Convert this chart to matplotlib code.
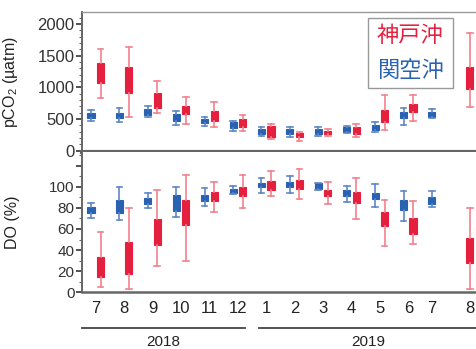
import matplotlib
matplotlib.use('Agg')
import matplotlib.pyplot as plt
from matplotlib.patches import Rectangle

plt.rcParams['font.family'] = ['Liberation Sans', 'DejaVu Sans']
plt.rcParams['mathtext.fontset'] = 'custom'
plt.rcParams['mathtext.rm'] = 'Liberation Sans'
plt.rcParams['mathtext.it'] = 'Liberation Sans'

# 月 (2018-7 .. 2019-8)
months = ['7', '8', '9', '10', '11', '12', '1', '2', '3', '4', '5', '6', '7', '8']
years = ['2018', '2019']
year_sizes = [6, 8]

# pCO2 (µatm) 神戸沖
kobe_pco2_lo = [827, 537, 600, 421, 379, 316, 180, 158, 232, 221, 327, 469, None, 685]
kobe_pco2_q1 = [1073, 916, 679, 574, 474, 379, 221, 221, 258, 264, 458, 616, None, 969]
kobe_pco2_q3 = [1380, 1326, 906, 706, 631, 500, 390, 284, 316, 369, 642, 732, None, 1326]
kobe_pco2_hi = [1600, 1632, 1105, 843, 764, 563, 421, 300, 338, 421, 879, 879, None, 1863]
# pCO2 (µatm) 関空沖
kix_pco2_lo = [475, 448, 537, 406, 390, 316, 232, 211, 232, 285, 290, 406, 511, None]
kix_pco2_q1 = [510, 511, 563, 469, 442, 353, 264, 264, 264, 300, 327, 511, 527, None]
kix_pco2_q3 = [590, 600, 653, 574, 496, 448, 342, 338, 338, 370, 406, 606, 616, None]
kix_pco2_hi = [640, 670, 700, 631, 527, 469, 369, 369, 369, 390, 448, 679, 658, None]

# DO (%) 神戸沖
kobe_do_lo = [5.3, 3.4, 25.2, 29.6, 76, 80.1, 91.2, 88.1, 83.6, 69.1, 44.1, 45.5, None, 2.8]
kobe_do_q1 = [14.2, 17.3, 44.8, 63.4, 86.7, 91.5, 96.9, 97.8, 91.5, 84.3, 63.1, 54.9, None, 28]
kobe_do_q3 = [33.1, 47.9, 69.1, 87.4, 95.3, 99.4, 105.4, 106.3, 96.9, 95.3, 76.3, 70.1, None, 51.7]
kobe_do_hi = [57.1, 79.5, 96.9, 111, 104.2, 111, 114.9, 116.8, 104.2, 108, 87.4, 86.5, None, 79.5]
# DO (%) 関空沖
kix_do_lo = [70.4, 68.5, 79.5, 71.6, 81.7, 93.1, 93.7, 93.7, 96.9, 85.8, 81.1, 67.5, 80.5, None]
kix_do_q1 = [74.8, 74.8, 83.6, 77.3, 86.7, 94.3, 99.4, 100, 97.5, 91.5, 88.4, 77.9, 83.6, None]
kix_do_q3 = [80.5, 87.4, 89, 92.1, 92.1, 98.1, 103.8, 104.7, 103.2, 96.9, 94.3, 87.4, 90.5, None]
kix_do_hi = [84.8, 100, 93.7, 100, 98.5, 101, 108, 110.4, 103.8, 100.7, 102.3, 96.2, 96.2, None]

RED = '#E5203F'
RED_W = '#F2818E'
BLUE = '#2A62B2'
BLUE_W = '#5F86C8'
SPINE = '#666666'
OFF = 0.167


def make_stats(lo, q1, q3, hi, shift):
    stats, pos = [], []
    for i in range(len(lo)):
        if lo[i] is None:
            continue
        stats.append(dict(whislo=lo[i], q1=q1[i], med=q1[i], q3=q3[i], whishi=hi[i], fliers=[]))
        pos.append(i + shift)
    return stats, pos


def draw(ax, lo, q1, q3, hi, shift, color, wcolor):
    stats, pos = make_stats(lo, q1, q3, hi, shift)
    ax.bxp(stats, positions=pos, widths=0.25, capwidths=0.2, patch_artist=True,
           showfliers=False, manage_ticks=False,
           boxprops=dict(facecolor=color, edgecolor=color, linewidth=0.8),
           whiskerprops=dict(color=wcolor, linewidth=1.2),
           capprops=dict(color=wcolor, linewidth=1.2),
           medianprops=dict(linewidth=0))
    return pos


fig = plt.figure(figsize=(4.77, 3.49), dpi=100)
ax1 = fig.add_axes([0.171, 0.5645, 0.829, 0.3997])
ax2 = fig.add_axes([0.171, 0.1625, 0.829, 0.402])

draw(ax1, kobe_pco2_lo, kobe_pco2_q1, kobe_pco2_q3, kobe_pco2_hi, OFF, RED, RED_W)
draw(ax1, kix_pco2_lo, kix_pco2_q1, kix_pco2_q3, kix_pco2_hi, -OFF, BLUE, BLUE_W)
red_pos = draw(ax2, kobe_do_lo, kobe_do_q1, kobe_do_q3, kobe_do_hi, OFF, RED, RED_W)
blue_pos = draw(ax2, kix_do_lo, kix_do_q1, kix_do_q3, kix_do_hi, -OFF, BLUE, BLUE_W)

xlim = (-0.50, 13.42)
for ax in (ax1, ax2):
    ax.set_xlim(*xlim)
    ax.spines['right'].set_visible(False)
    ax.spines['left'].set_color(SPINE)
    ax.spines['left'].set_linewidth(1.4)
    ax.tick_params(axis='y', colors='#333333', direction='out', length=4, width=1.2, pad=1)
    ax.tick_params(axis='y', which='minor', length=2, width=0.8, colors=SPINE)
    ax.tick_params(axis='x', length=0)

# top panel
ax1.set_ylim(-20, 2181)
ax1.set_yticks([0, 500, 1000, 1500, 2000])
ax1.set_yticks(range(0, 2200, 100), minor=True)
ax1.tick_params(axis='y', labelsize=12)
ax1.set_xticks([])
ax1.spines['top'].set_color('#999999')
ax1.spines['top'].set_linewidth(1.0)
ax1.spines['bottom'].set_color(SPINE)
ax1.spines['bottom'].set_linewidth(3)
ax1.set_ylabel('pCO$_2$ (µatm)', fontsize=11.5, color='#222222')
ax1.yaxis.set_label_coords(-0.155, 0.5)

# bottom panel
ax2.set_ylim(0, 132.9)
ax2.set_yticks([0, 20, 40, 60, 80, 100, 120])
ax2.set_yticklabels(['0', '20', '40', '60', '80', '100', ''])
ax2.set_yticks(range(0, 131, 10), minor=True)
ax2.tick_params(axis='y', labelsize=11)
ax2.spines['top'].set_visible(False)
ax2.spines['bottom'].set_color(SPINE)
ax2.spines['bottom'].set_linewidth(1.8)
ax2.set_ylabel('DO (%)', fontsize=11.5, color='#222222')
ax2.yaxis.set_label_coords(-0.155, 0.5)

# month labels sit at the mean of the boxes present that month
tick_pos = []
for i in range(len(months)):
    p = [x for x in red_pos + blue_pos if abs(x - i) < 0.5]
    tick_pos.append(sum(p) / len(p))
ax2.set_xticks(tick_pos)
ax2.set_xticklabels(months, fontsize=12, color='#222222')
ax2.tick_params(axis='x', pad=6)

# year brackets
tr = ax2.get_xaxis_transform()
start = 0
for k, (yr, n) in enumerate(zip(years, year_sizes)):
    x0 = xlim[0] if k == 0 else start - 0.25
    x1 = start + n - 0.74 if k == 0 else xlim[1]
    ax2.plot([x0, x1], [-0.252, -0.252], transform=tr, color='#444444', lw=1.3, clip_on=False)
    ax2.text((x0 + x1) / 2, -0.355, yr, transform=tr, ha='center', va='center',
             fontsize=11, color='#222222')
    start += n

# legend box
fig.patches.append(Rectangle((0.7715, 0.7479), 0.178, 0.2006, transform=fig.transFigure,
                             facecolor='white', edgecolor='#999999', linewidth=1.0, zorder=5))
fig.text(0.8595, 0.8997, '神戸沖', color=RED, fontsize=16, ha='center', va='center',
         family=['Noto Sans CJK JP', 'DejaVu Sans'], zorder=6)
fig.text(0.8595, 0.7994, '関空沖', color=BLUE, fontsize=16, ha='center', va='center',
         family=['Noto Sans CJK JP', 'DejaVu Sans'], zorder=6)

fig.savefig('out.png', dpi=100)
